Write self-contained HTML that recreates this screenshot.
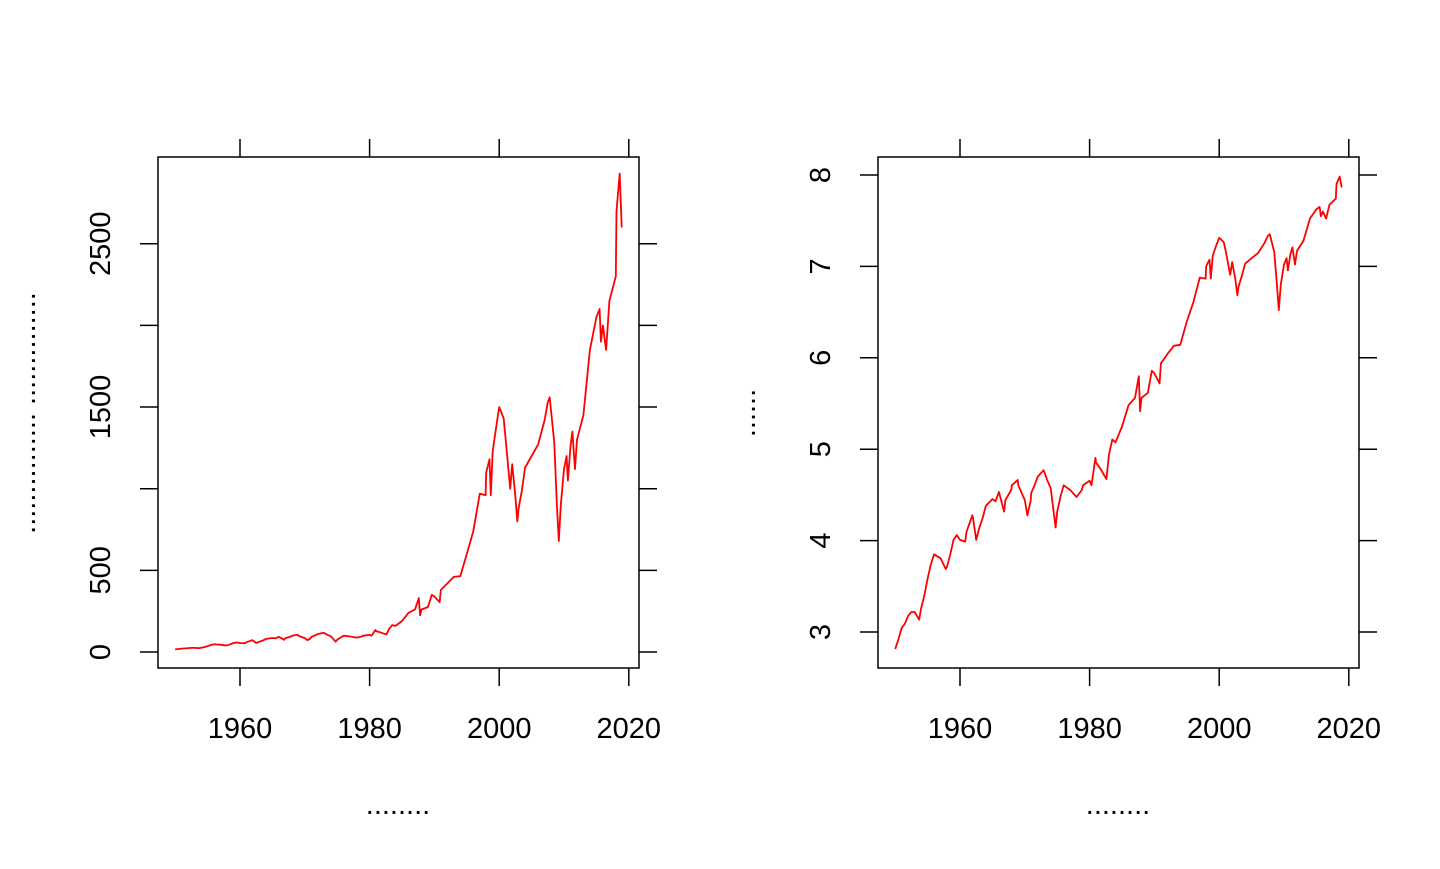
<!DOCTYPE html>
<html><head><meta charset="utf-8"><style>
body{margin:0;background:#fff;}
svg text{font-family:"Liberation Sans",Arial,sans-serif;font-size:29px;fill:#000;}
</style></head><body>
<svg id="c" width="1440" height="864" xmlns="http://www.w3.org/2000/svg"></svg>
<script>
const years=[1950,1950.5,1951,1951.5,1952,1952.5,1953,1953.7,1954,1954.5,1955,1955.5,1956,1956.5,1957,1957.8,1958,1958.5,1959,1959.5,1960,1960.8,1961,1961.9,1962,1962.5,1963,1963.5,1964,1965,1965.5,1966,1966.8,1967,1967.9,1968,1968.9,1969,1969.5,1970,1970.4,1970.9,1971,1971.5,1972,1972.9,1973,1973.5,1974,1974.75,1975,1975.5,1976,1977,1978,1978.8,1979,1980,1980.3,1980.9,1981,1981.8,1982,1982.6,1983,1983.5,1984,1985,1986,1986.5,1987,1987.6,1987.8,1988,1989,1989.6,1990,1990.8,1991,1992,1993,1994,1995,1996,1997,1997.9,1998,1998.5,1998.7,1999,1999.5,2000,2000.2,2000.7,2001,2001.7,2002,2002.5,2002.8,2003,2003.5,2004,2005,2006,2007,2007.5,2007.8,2008,2008.5,2008.9,2009.2,2009.5,2010,2010.4,2010.6,2011,2011.3,2011.7,2012,2013,2014,2015,2015.5,2015.7,2016,2016.5,2017,2018,2018.1,2018.6,2018.9];
const prices=[16.7,18.5,21,22,24,25,25,23,26,30,36,42,47,46,45,40,41,47,55,58,55,54,60,72,70,55,63,70,80,86,84,93,75,85,95,100,106,100,92,85,72,84,92,100,110,118,116,105,97,63,75,88,100,95,88,95,100,105,100,135,128,118,115,107,140,165,160,190,240,250,260,330,225,260,275,350,340,305,380,420,460,465,600,740,970,960,1100,1180,960,1230,1370,1500,1480,1430,1300,1000,1150,950,800,880,990,1130,1200,1270,1420,1530,1560,1480,1280,900,680,900,1120,1200,1050,1260,1350,1120,1300,1450,1850,2050,2100,1900,2000,1850,2150,2300,2700,2930,2600,2850,2700];
const xTicks=[1960,1980,2000,2020];
const leftTicks=[0,500,1000,1500,2000,2500];
const leftLabels=[0,500,1500,2500];
const rightTicks=[3,4,5,6,7,8];
const NS="http://www.w3.org/2000/svg",svg=document.getElementById('c');
function el(t,a,txt){const e=document.createElementNS(NS,t);for(const k in a)e.setAttribute(k,a[k]);if(txt!==undefined)e.textContent=txt;svg.appendChild(e);return e;}
function xs(off){return y=>off+240+(y-1960)*6.48;}
const yl=v=>652-v*0.1633, yr=v=>632-(v-3)*91.4;
function panel(off,ys,ticks,labels,vals,ylabel,p){
  const x=xs(off);
  const b=el('rect',{x:off+158,y:157,width:481,height:511,fill:'none',stroke:'#000','stroke-width':1.5});
  
  xTicks.forEach(t=>{
    const l=el('line',{x1:x(t),x2:x(t),y1:668,y2:686,stroke:'#000','stroke-width':1.5});
    
    const l2=el('line',{x1:x(t),x2:x(t),y1:157,y2:139,stroke:'#000','stroke-width':1.5});
    
    const tx=el('text',{x:x(t),y:738,'text-anchor':'middle'},t);
    
  });
  ticks.forEach(t=>{
    const l=el('line',{x1:off+158,x2:off+140,y1:ys(t),y2:ys(t),stroke:'#000','stroke-width':1.5});
    
    const l2=el('line',{x1:off+639,x2:off+657,y1:ys(t),y2:ys(t),stroke:'#000','stroke-width':1.5});
    
  });
  labels.forEach(t=>{
    const tx=el('text',{x:0,y:0,'text-anchor':'middle',transform:`translate(${off+110},${ys(t)}) rotate(-90)`},t);
    
  });
  const d=years.map((y,i)=>(i?'L':'M')+x(y).toFixed(1)+','+ys(vals[i]).toFixed(1)).join('');
  const pa=el('path',{d:d,fill:'none',stroke:'#ff0000','stroke-width':1.8,'stroke-linejoin':'round'});
  
  const xt=el('text',{x:off+398,y:814,'text-anchor':'middle'},'........');
  
  const yt=el('text',{x:0,y:0,'text-anchor':'middle',transform:`translate(${off+35},${(278+548)/2}) rotate(-90)`},ylabel);
  
}
panel(0,yl,leftTicks,leftLabels,prices,'............... ..............','left');
panel(720,yr,rightTicks,rightTicks,prices.map(v=>Math.log(v)),'......','right');
</script>
</body></html>
